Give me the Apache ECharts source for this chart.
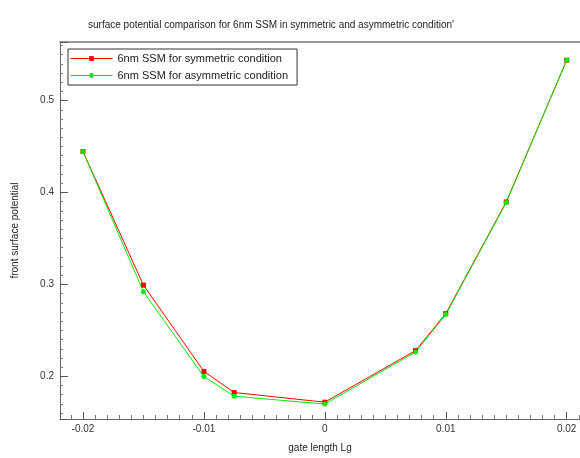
<!DOCTYPE html>
<html>
<head>
<meta charset="utf-8">
<script src="https://cdn.jsdelivr.net/npm/echarts@6/dist/echarts.min.js"></script>
<style>html,body{margin:0;padding:0;background:#fff}#c{width:580px;height:458px}</style>
</head>
<body>
<div id="c"></div>
<script>
var gateLength = [-0.02, -0.015, -0.01, -0.0075, 0, 0.0075, 0.01, 0.015, 0.02];
var symmetricVals = [0.4446, 0.2992, 0.2054, 0.1824, 0.1719, 0.2280, 0.2682, 0.3897, 0.5439];
var asymmetricVals = [0.4446, 0.2920, 0.1997, 0.1784, 0.1698, 0.2265, 0.2672, 0.3890, 0.5439];
var seriesNames = ['6nm SSM for symmetric condition', '6nm SSM for asymmetric condition'];
var seriesColors = ['#ff0000', '#00ee00'];

function pairs(xs, ys) { return xs.map(function (x, i) { return [x, ys[i]]; }); }

var chart = echarts.init(document.getElementById('c'), null, {renderer: 'canvas'});
var font = 'Liberation Sans, Arial, sans-serif';
chart.setOption({
  animation: false,
  title: {
    text: "surface potential comparison for 6nm SSM in symmetric and asymmetric condition'",
    left: 83, top: 15,
    textStyle: {fontSize: 10, fontWeight: 'normal', color: '#222', fontFamily: font}
  },
  legend: {
    orient: 'vertical', left: 68, top: 49,
    itemWidth: 42, itemHeight: 6, itemGap: 6,
    padding: [4, 9, 4, 2],
    borderColor: '#333', borderWidth: 1,
    textStyle: {fontSize: 11, color: '#222', fontFamily: font},
    data: seriesNames.map(function (n, i) {
      return {name: n, lineStyle: {color: seriesColors[i], width: 1}, itemStyle: {color: seriesColors[i]}};
    })
  },
  grid: {left: 60, top: 42, right: 0, bottom: 36},
  xAxis: [{
    type: 'value', min: -0.0219, max: 0.0211, splitNumber: 4,
    name: 'gate length Lg', nameLocation: 'middle', nameGap: 24,
    nameTextStyle: {fontSize: 10, color: '#222', fontFamily: font},
    axisLine: {onZero: false, lineStyle: {color: '#666'}},
    axisTick: {inside: true, length: 7, lineStyle: {color: '#555'}},
    minorTick: {show: true, splitNumber: 10, length: 4, lineStyle: {color: '#777'}},
    splitLine: {show: false},
    axisLabel: {fontSize: 10, color: '#333', margin: 5, fontFamily: font, showMinLabel: false, showMaxLabel: false,
      formatter: function (v) { return String(+v.toFixed(4)); }}
  }, {
    type: 'value', position: 'top', min: -0.0219, max: 0.0211,
    axisLine: {show: true, onZero: false, lineStyle: {color: '#777', width: 1.5}},
    axisTick: {show: false}, axisLabel: {show: false}, splitLine: {show: false}
  }],
  yAxis: {
    type: 'value', min: 0.1536, max: 0.5637, splitNumber: 4,
    name: 'front surface potential', nameLocation: 'middle', nameGap: 40,
    nameTextStyle: {fontSize: 10, color: '#222', fontFamily: font},
    axisLine: {show: true, onZero: false, lineStyle: {color: '#666'}},
    axisTick: {show: true, inside: true, length: 8, lineStyle: {color: '#555'}},
    minorTick: {show: true, splitNumber: 10, length: 3, lineStyle: {color: '#777'}},
    splitLine: {show: false},
    axisLabel: {fontSize: 10, color: '#333', margin: 6, fontFamily: font, showMinLabel: false, showMaxLabel: false,
      formatter: function (v) { return String(+v.toFixed(4)); }}
  },
  series: [
    {
      name: seriesNames[0], type: 'line', data: pairs(gateLength, symmetricVals),
      symbol: 'rect', symbolSize: 5, showAllSymbol: true,
      lineStyle: {color: seriesColors[0], width: 1}, itemStyle: {color: seriesColors[0]}
    },
    {
      name: seriesNames[1], type: 'line', data: pairs(gateLength, asymmetricVals),
      symbol: 'circle', symbolSize: 5, showAllSymbol: true,
      lineStyle: {color: seriesColors[1], width: 1}, itemStyle: {color: seriesColors[1]}
    }
  ]
});
</script>
</body>
</html>
